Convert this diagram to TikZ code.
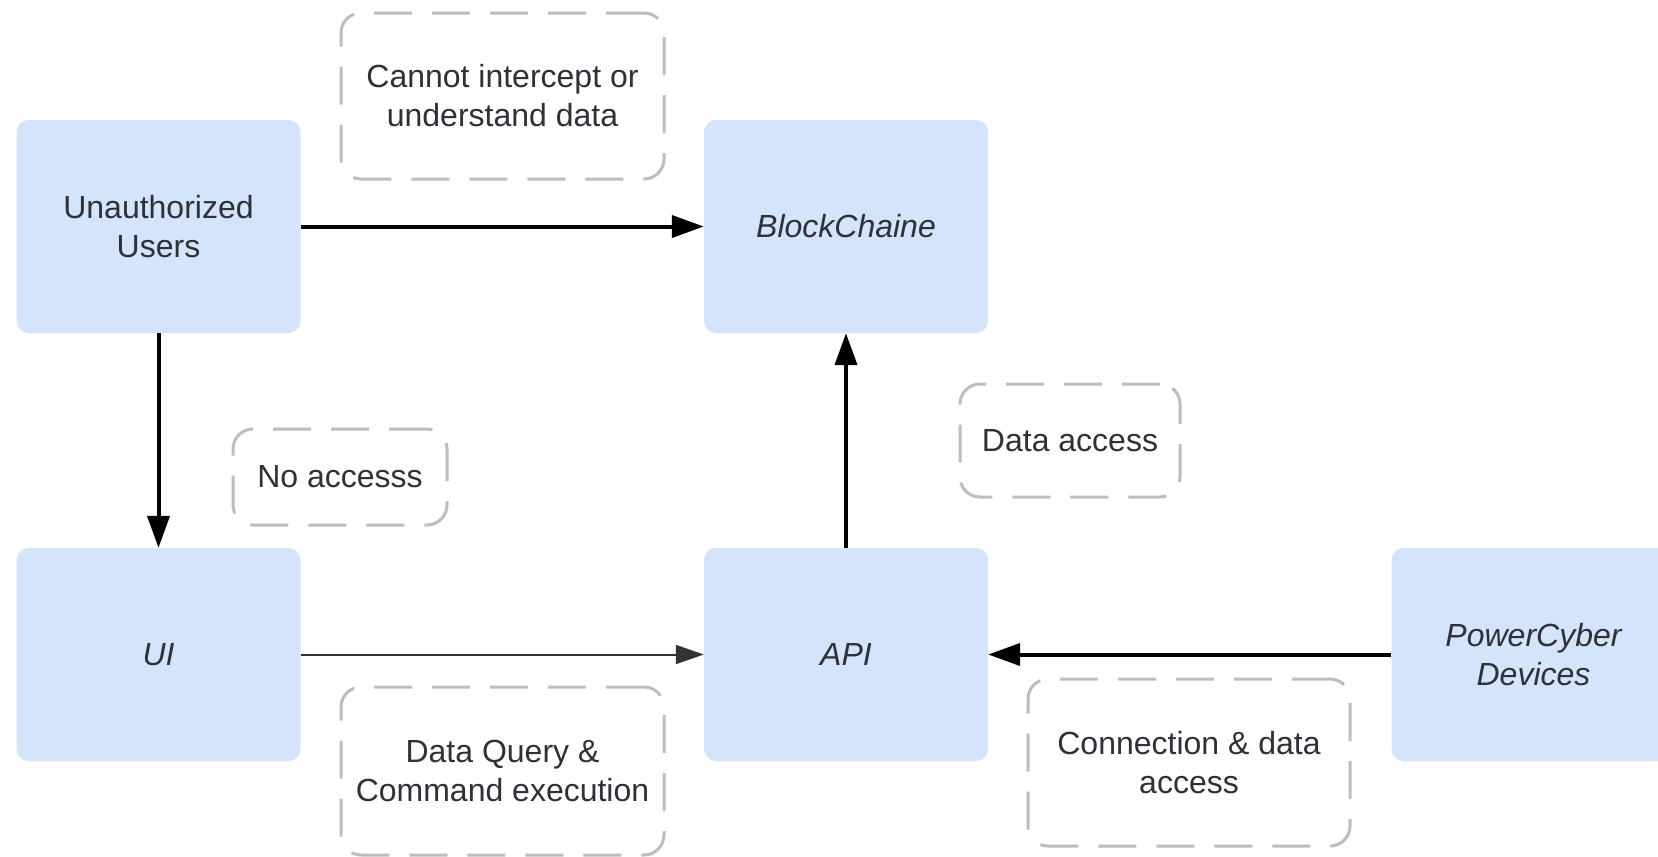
\documentclass[tikz,border=0pt]{standalone}
\usepackage{fontspec}
\setmainfont{Liberation Sans}
\usetikzlibrary{arrows.meta}
\definecolor{boxfill}{HTML}{D4E5FB}
\definecolor{txt}{HTML}{2E3138}
\definecolor{dashgray}{HTML}{BDBDBD}
\definecolor{thinline}{HTML}{333333}

\begin{document}
\begin{tikzpicture}[x=1pt,y=-1pt,
  block/.style={fill=boxfill, rounded corners=12pt, minimum width=284pt,
    minimum height=213pt, inner sep=0pt, text=txt,
    font=\fontsize{32}{39}\selectfont, align=center},
  note/.style={draw=dashgray, line width=3pt, dash pattern=on 38pt off 20pt,
    rounded corners=20pt, inner sep=0pt, text=txt,
    font=\fontsize{32}{39}\selectfont, align=center},
  link/.style={line width=4pt, draw=black,
    -{Triangle[length=32pt,width=22pt]}},
  thinlink/.style={line width=2pt, draw=thinline,
    -{Triangle[length=28pt,width=19pt]}}
]
\useasboundingbox (0,0) rectangle (1658,857);
\clip (0,0) rectangle (1658,857);
\fill[white] (0,0) rectangle (1658,857);

% main components
\node[block] (unauth) at (158.5,226.5) {Unauthorized\\Users};
\node[block] (chain)  at (846,226.5)   {\itshape BlockChaine};
\node[block] (ui)     at (158.5,654.5) {\itshape UI};
\node[block] (api)    at (846,654.5)   {\itshape API};
\node[block] (dev)    at (1533.5,654.5) {\itshape PowerCyber\\\itshape Devices};

% annotations
\node[note, minimum width=323pt, minimum height=166pt] (n1) at (502.5,96)
  {Cannot intercept or\\understand data};
\node[note, minimum width=214pt, minimum height=96pt] (n2) at (340,477)
  {No accesss};
\node[note, minimum width=220pt, minimum height=113pt] (n3) at (1070,440.5)
  {Data access};
\node[note, minimum width=323pt, minimum height=168pt] (n4) at (502.5,771)
  {Data Query \&\\Command execution};
\node[note, minimum width=322pt, minimum height=167pt] (n5) at (1189,762.5)
  {Connection \& data\\access};

% connectors
\draw[link] (unauth.east) -- (chain.west);
\draw[link] (unauth.south) -- (ui.north);
\draw[thinlink] (ui.east) -- (api.west);
\draw[link] (api.north) -- (chain.south);
\draw[link] (dev.west) -- (api.east);
\end{tikzpicture}
\end{document}
